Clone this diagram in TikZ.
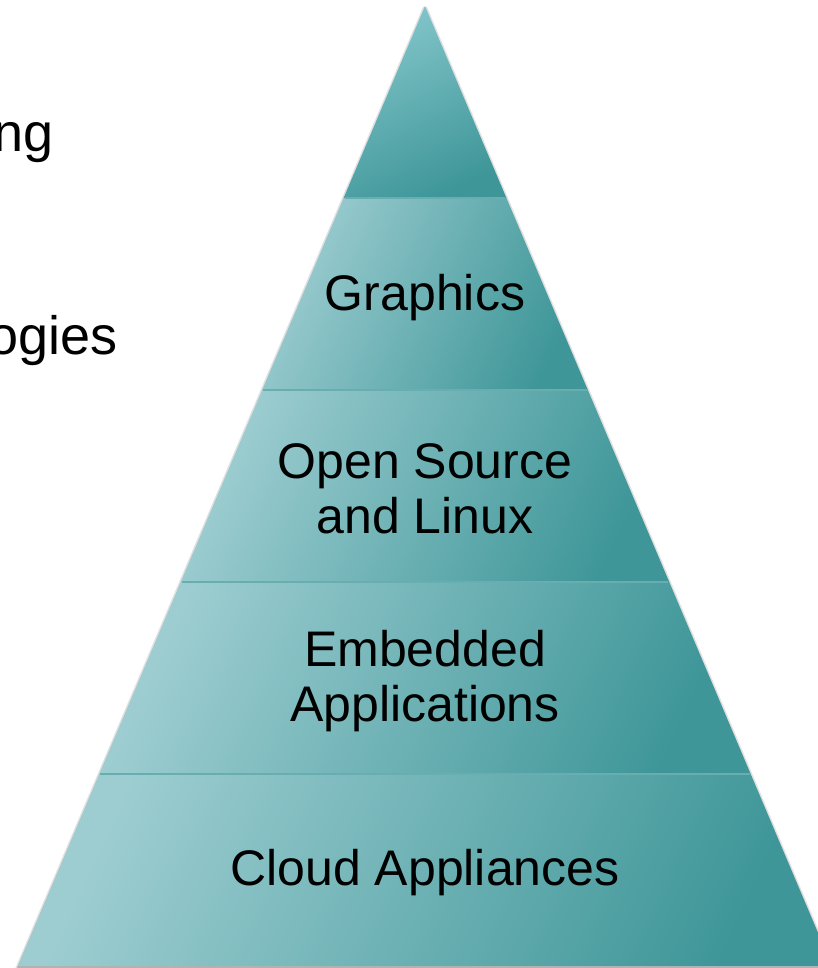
\documentclass[tikz,border=0pt]{standalone}
\usepackage{fontspec}
\setmainfont{Liberation Sans}
\definecolor{tlight}{HTML}{9DCDD1}
\definecolor{tmid}{HTML}{80C3C7}
\definecolor{tdark}{HTML}{3E9698}
\definecolor{ttop}{HTML}{82C5CA}
\definecolor{tsep}{HTML}{68ADB0}
\begin{document}
\begin{tikzpicture}[x=1pt,y=1pt,
  layer/.style={left color=tlight, middle color=tmid, right color=tdark, shading angle=65},
  apexlayer/.style={left color=ttop, right color=tdark, shading angle=25},
  sepline/.style={draw=tsep, line width=1.5pt},
  lbl/.style={font=\fontsize{50}{55}\selectfont, align=center, text=black, inner sep=0pt},
  side/.style={font=\fontsize{54}{60}\selectfont, text=black, inner sep=0pt}]
\useasboundingbox (0,0) rectangle (818,968);
\fill[white] (0,0) rectangle (818,968);
% outline points
\coordinate (A)  at (425,962);
\coordinate (L1) at (343.6,770); \coordinate (R1) at (506.4,770);
\coordinate (L2) at (262.2,578); \coordinate (R2) at (587.8,578);
\coordinate (L3) at (180.8,386); \coordinate (R3) at (669.2,386);
\coordinate (L4) at (99.4,194);  \coordinate (R4) at (750.6,194);
\coordinate (L5) at (18,2);      \coordinate (R5) at (832,2);
% soft shadow
\fill[black!12] ([xshift=-2pt,yshift=-1pt]A) -- ([xshift=-3pt,yshift=-3pt]L5) -- ([xshift=3pt,yshift=-3pt]R5) -- ([xshift=2pt,yshift=-1pt]A) -- cycle;
\fill[black!30] ([yshift=-2pt]A) -- ([xshift=-1pt,yshift=-2pt]L5) -- ([xshift=1pt,yshift=-2pt]R5) -- cycle;
% layers
\shade[apexlayer] (A) -- (R1) -- (L1) -- cycle;
\shade[layer] (L1) -- (R1) -- (R2) -- (L2) -- cycle;
\shade[layer] (L2) -- (R2) -- (R3) -- (L3) -- cycle;
\shade[layer] (L3) -- (R3) -- (R4) -- (L4) -- cycle;
\shade[layer] (L4) -- (R4) -- (R5) -- (L5) -- cycle;
% separators
\draw[sepline] ([xshift=1pt]L1) -- ([xshift=-1pt]R1);
\draw[sepline] ([xshift=1pt]L2) -- ([xshift=-1pt]R2);
\draw[sepline] ([xshift=1pt]L3) -- ([xshift=-1pt]R3);
\draw[sepline] ([xshift=1pt]L4) -- ([xshift=-1pt]R4);
% labels
\node[lbl] (g) at (425,670) {Graphics};
\node[lbl] (o) at (425,479) {Open Source\\and Linux};
\node[lbl] (e) at (425,287) {Embedded\\Applications};
\node[lbl] (c) at (425,95) {Cloud Appliances};
% cropped side text
\node[side, anchor=base east] (t1) at (54,816) {ng};
\node[side, anchor=base east] (t2) at (118,613) {ogies};
\end{tikzpicture}
\end{document}
